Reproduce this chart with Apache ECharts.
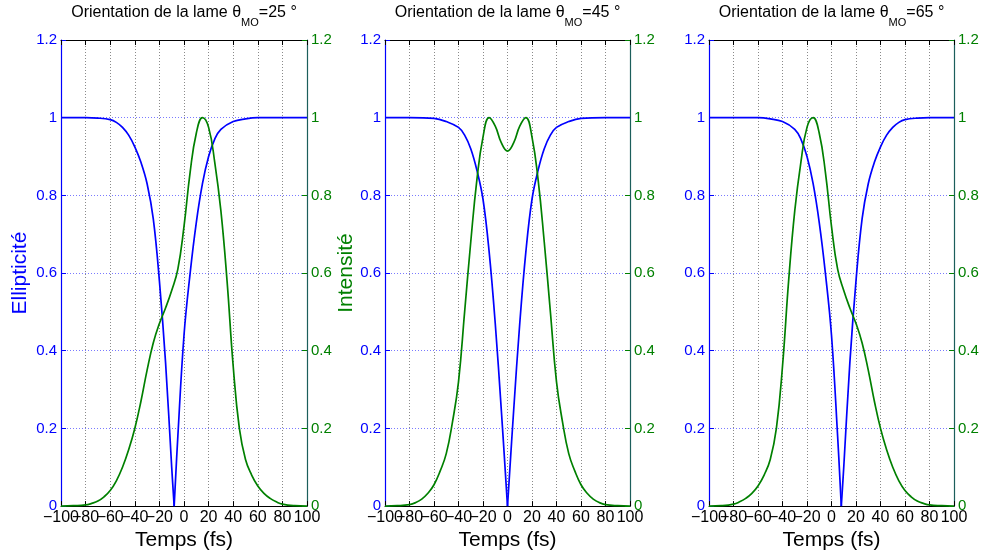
<!DOCTYPE html>
<html><head><meta charset="utf-8">
<script src="https://cdn.jsdelivr.net/npm/echarts@6/dist/echarts.min.js"></script>
<style>html,body{margin:0;padding:0;background:#fff}#c{width:982px;height:556px}</style>
</head><body><div id="c"></div>
<script>
// ---- data ----
const xTicks = [-100, -80, -60, -40, -20, 0, 20, 40, 60, 80, 100];
const yTicks = [0, 0.2, 0.4, 0.6, 0.8, 1, 1.2];
const angles = [25, 45, 65];

// Ellipticity (blue), one time base per panel
const tEll1 = [-100,-80,-70,-60,-55,-50,-45,-40,-35,-30,-25,-20,-15,-10,-8,-5,0,5,10,15,20,25,30,40,50,60,80,100];
const ell1  = [1,1,0.999,0.995,0.988,0.975,0.955,0.925,0.885,0.83,0.74,0.58,0.37,0.1,0,0.18,0.44,0.6,0.73,0.83,0.9,0.945,0.97,0.99,0.997,1,1,1];
const tEll2 = [-100,-80,-60,-50,-40,-35,-30,-25,-20,-15,-10,-5,0,5,10,15,20,25,30,35,40,50,60,80,100];
const ell2  = [1,1,0.998,0.99,0.975,0.955,0.92,0.865,0.79,0.655,0.47,0.245,0,0.245,0.47,0.655,0.79,0.865,0.92,0.955,0.975,0.99,0.998,1,1];
const tEll3 = [-100,-80,-60,-50,-40,-30,-25,-20,-15,-10,-5,0,5,8,10,15,20,25,30,35,40,45,50,55,60,70,80,100];
const ell3  = [1,1,1,0.997,0.99,0.97,0.945,0.9,0.83,0.73,0.6,0.44,0.18,0,0.1,0.37,0.58,0.74,0.83,0.885,0.925,0.955,0.975,0.988,0.995,0.999,1,1];

// Intensity (green), common time base
const tInt = [-100,-90,-80,-75,-70,-65,-60,-55,-50,-45,-40,-35,-30,-25,-20,-15,-10,-5,0,5,10,15,20,25,30,35,40,45,50,55,60,65,70,75,80,90,100];
const int1 = [0,0.001,0.003,0.007,0.013,0.024,0.04,0.065,0.1,0.145,0.2,0.27,0.35,0.42,0.47,0.51,0.555,0.61,0.72,0.86,0.96,1.0,0.975,0.885,0.76,0.58,0.36,0.2,0.12,0.08,0.052,0.033,0.02,0.011,0.005,0.001,0];
const int2 = [0,0.001,0.004,0.009,0.018,0.033,0.055,0.09,0.135,0.215,0.32,0.5,0.68,0.84,0.95,1.0,0.978,0.935,0.914,0.935,0.978,1.0,0.95,0.84,0.68,0.5,0.32,0.215,0.135,0.09,0.055,0.033,0.018,0.009,0.004,0.001,0];
const int3 = [0,0.001,0.005,0.011,0.02,0.033,0.052,0.08,0.12,0.2,0.36,0.58,0.76,0.885,0.975,1.0,0.96,0.86,0.72,0.61,0.555,0.51,0.47,0.42,0.35,0.27,0.2,0.145,0.1,0.065,0.04,0.024,0.013,0.007,0.003,0.001,0];

const ellT = [tEll1, tEll2, tEll3];
const ellV = [ell1, ell2, ell3];
const intV = [int1, int2, int3];

// ---- layout / style ----
const BLUE = '#0000ff', GREEN = '#008000', RAXIS = '#1b5e5b';
const FONT = 'Liberation Sans';
const grids = [
  {left: 61, top: 40, width: 246, height: 470},
  {left: 385, top: 40, width: 245, height: 470},
  {left: 709, top: 40, width: 245, height: 470}
];
const minus = v => (v < 0 ? '\u2212' + Math.abs(v) : String(v));
const xFmtMain = v => (v === xTicks[0] ? '' : minus(v));
const xFmtMin = v => (v === xTicks[0] ? minus(v) : '');
const yFmt = v => String(+v.toFixed(1));

function pairs(t, v) { return t.map((x, i) => [x, v[i]]); }
function splitAtMin(t, v) {
  let k = 0; v.forEach((y, i) => { if (y < v[k]) k = i; });
  const p = pairs(t, v);
  return [p.slice(0, k + 1), p.slice(k)];
}

const xBase = {
  type: 'value', min: xTicks[0], max: xTicks[xTicks.length - 1], interval: 20
};
const xLabelStyle = {color: '#000', fontSize: 16, fontFamily: FONT, margin: 3, showMinLabel: true, showMaxLabel: true, hideOverlap: false};

const xAxis = [], yAxis = [], series = [];
grids.forEach((g, i) => {
  xAxis.push(Object.assign({}, xBase, {
    gridIndex: i, position: 'bottom',
    axisLine: {show: true, onZero: false, lineStyle: {color: '#000', width: 1}},
    axisTick: {show: true, inside: true, length: 5, lineStyle: {color: '#000'}},
    axisLabel: Object.assign({formatter: xFmtMain}, xLabelStyle),
    splitLine: {show: true, lineStyle: {color: '#8a8a8a', type: [1, 2], width: 1}},
    name: 'Temps (fs)', nameLocation: 'middle', nameGap: 17,
    nameTextStyle: {color: '#000', fontSize: 21, fontFamily: FONT}
  }));
  xAxis.push(Object.assign({}, xBase, {
    gridIndex: i, position: 'top',
    axisLine: {show: true, onZero: false, lineStyle: {color: '#000', width: 1}},
    axisTick: {show: true, inside: true, length: 5, lineStyle: {color: '#000'}},
    axisLabel: {show: false}, splitLine: {show: false}
  }));
  xAxis.push(Object.assign({}, xBase, {
    gridIndex: i, position: 'bottom',
    axisLine: {show: false}, axisTick: {show: false}, splitLine: {show: false},
    axisLabel: Object.assign({formatter: xFmtMin}, xLabelStyle)
  }));
  yAxis.push({
    gridIndex: i, type: 'value', position: 'left',
    min: yTicks[0], max: yTicks[yTicks.length - 1], interval: 0.2,
    axisLine: {show: true, onZero: false, lineStyle: {color: BLUE, width: 1.2}},
    axisTick: {show: true, inside: true, length: 5, lineStyle: {color: BLUE}},
    axisLabel: {color: BLUE, fontSize: 15, fontFamily: FONT, margin: 4, formatter: yFmt},
    splitLine: {show: true, lineStyle: {color: '#7a7aff', type: [1, 2], width: 1}},
    name: i === 0 ? 'Ellipticité' : '', nameLocation: 'middle', nameGap: 30,
    nameTextStyle: {color: BLUE, fontSize: 21, fontFamily: FONT}
  });
  yAxis.push({
    gridIndex: i, type: 'value', position: 'right',
    min: yTicks[0], max: yTicks[yTicks.length - 1], interval: 0.2,
    axisLine: {show: true, onZero: false, lineStyle: {color: RAXIS, width: 1.2}},
    axisTick: {show: true, inside: true, length: 5, lineStyle: {color: GREEN}},
    axisLabel: {color: GREEN, fontSize: 15, fontFamily: FONT, margin: 4, formatter: yFmt},
    splitLine: {show: false},
    name: i === 0 ? 'Intensité' : '', nameLocation: 'middle', nameGap: 27,
    nameTextStyle: {color: GREEN, fontSize: 21, fontFamily: FONT}
  });
  const [left, right] = splitAtMin(ellT[i], ellV[i]);
  [left, right].forEach(d => series.push({
    type: 'line', xAxisIndex: 3 * i, yAxisIndex: 2 * i, data: d,
    symbol: 'none', smooth: 0.4, z: 2,
    lineStyle: {color: BLUE, width: 1.7}
  }));
  series.push({
    type: 'line', xAxisIndex: 3 * i, yAxisIndex: 2 * i + 1, data: pairs(tInt, intV[i]),
    symbol: 'none', smooth: 0.45, z: 3,
    lineStyle: {color: GREEN, width: 1.7}
  });
});

// Titles with subscript, laid out from measured text widths
const mctx = document.createElement('canvas').getContext('2d');
function tw(s, size) { mctx.font = size + 'px "' + FONT + '"'; return mctx.measureText(s).width; }
const graphic = [];
grids.forEach((g, i) => {
  const cx = g.left + g.width / 2;
  const a = 'Orientation de la lame \u03b8', s = 'MO', b = '=' + angles[i] + ' \u00b0';
  const fa = 16, fs = 11;
  const wa = tw(a, fa), ws = tw(s, fs), wb = tw(b, fa);
  let x = cx - (wa + ws + wb) / 2;
  const ya = 13, ys = 23;
  graphic.push({type: 'text', x: x, y: ya, style: {text: a, fill: '#000', font: fa + 'px "' + FONT + '"', align: 'left', verticalAlign: 'middle'}});
  x += wa;
  graphic.push({type: 'text', x: x, y: ys, style: {text: s, fill: '#000', font: fs + 'px "' + FONT + '"', align: 'left', verticalAlign: 'middle'}});
  x += ws;
  graphic.push({type: 'text', x: x, y: ya, style: {text: b, fill: '#000', font: fa + 'px "' + FONT + '"', align: 'left', verticalAlign: 'middle'}});
});

const chart = echarts.init(document.getElementById('c'), null, {renderer: 'canvas'});
chart.setOption({
  animation: false,
  backgroundColor: '#fff',
  textStyle: {fontFamily: FONT},
  grid: grids.map(g => Object.assign({containLabel: false}, g)),
  xAxis, yAxis, series, graphic
});
</script>
</body></html>
